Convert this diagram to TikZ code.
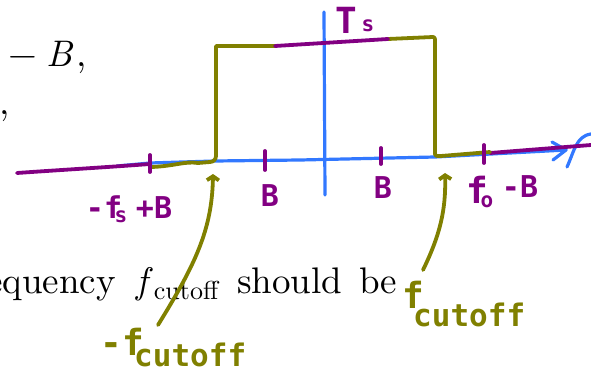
\documentclass[tikz,border=0pt]{standalone}
\usepackage{fontspec}
\setmainfont{lmroman10-regular}[Extension=.otf, ItalicFont=lmroman10-italic]
\usetikzlibrary{arrows.meta}
\newfontfamily\handfont{DejaVu Sans Mono}
\definecolor{pblue}{RGB}{50,120,255}
\definecolor{ppurple}{RGB}{130,0,130}
\definecolor{polive}{RGB}{128,128,0}
\tikzset{
  txt/.style={font=\fontsize{37}{44}\selectfont, inner sep=0pt},
  hand/.style={font={\handfont\bfseries\fontsize{30}{34}\selectfont}, inner sep=0pt},
  handcut/.style={font={\handfont\bfseries\fontsize{31}{34}\selectfont}, inner sep=0pt},
  handbig/.style={font={\handfont\bfseries\fontsize{36}{40}\selectfont}, inner sep=0pt},
  handsmall/.style={font={\handfont\bfseries\fontsize{21}{24}\selectfont}, inner sep=0pt},
  bluestroke/.style={draw=pblue, line width=3.2pt, line cap=round, line join=round},
  purplestroke/.style={draw=ppurple, line width=3.8pt, line cap=round, line join=round},
  olivestroke/.style={draw=polive, line width=3.8pt, line cap=round, line join=round},
  hookarrow/.style={olivestroke, -{Straight Barb[length=4pt,width=12pt]}},
}
\begin{document}
\begin{tikzpicture}[x=1pt,y=-1pt]
\useasboundingbox (0,0) rectangle (591,374);

% printed text
\node[txt, anchor=base west] (t1) at (8,67) {−\hspace{10pt}\textit{B}\kern2pt,};
\node[txt, anchor=base west] (t2) at (-1,115) {,};
\node[txt, anchor=base east] (t3) at (116,293) {equency};
\node[txt, anchor=base west] (t4) at (136,293) {\textit{f}\kern1pt\raisebox{-6pt}{\fontsize{26}{30}\selectfont cutoff}};
\node[txt, anchor=base west] (t5) at (237,293) {should\hspace{17pt}be};

% blue axes
\coordinate (vtop) at (324,12);
\coordinate (vbot) at (325,195);
\draw[bluestroke] (vtop) -- (vbot);
\coordinate (ax0) at (117,166);
\coordinate (axend) at (566,150);
\draw[bluestroke] (ax0) -- (150,163) -- (215,161) -- (300,160) -- (435,157) -- (axend);
\coordinate (ah1) at (552,142);
\coordinate (ah2) at (553,160);
\draw[bluestroke] (ah1) -- (axend) -- (ah2);
\coordinate (fb1) at (567,167);
\coordinate (fb2) at (591,134);
\draw[bluestroke] (fb1) .. controls (574,152) and (576,136) .. (fb2);

% purple axis parts
\coordinate (pl0) at (17,173);
\coordinate (pl1) at (150,164);
\draw[purplestroke] (pl0) .. controls (60,170) and (110,167) .. (pl1);
\coordinate (pr0) at (490,153);
\coordinate (pr1) at (591,145);
\draw[purplestroke] (pr0) -- (pr1);

% olive filter box
\coordinate (ob0) at (152,167);
\coordinate (otl) at (216,46);
\coordinate (otm) at (275,46);
\coordinate (otn) at (388,39);
\coordinate (otr) at (433,37);
\coordinate (obr) at (490,152);
\draw[olivestroke] (ob0) .. controls (175,166) and (185,161) .. (198,163)
   -- (210,162) to[out=0,in=-90] (216,156) -- (otl) -- (otm);
\draw[olivestroke] (otn) -- (otr) to[out=0,in=90] (435,43) -- (435,154)
   to[out=-90,in=180] (441,156) -- (obr);
\draw[purplestroke] (otm) -- (otn);

% ticks
\foreach \x/\ya/\yb/\n in {150/155/172/a, 265/151/170/b, 381/148/164/c, 484/145/163/d}{
  \coordinate (tk\n1) at (\x,\ya);
  \coordinate (tk\n2) at (\x,\yb);
  \draw[purplestroke] (tk\n1) -- (tk\n2);
}

% purple labels
\node[handbig, text=ppurple] (ts1) at (346,20) {T};
\node[handsmall, text=ppurple] (ts2) at (368,26) {s};
\node[hand, text=ppurple] (l1a) at (104,207) {-f};
\node[handsmall, text=ppurple] (l1b) at (121,217) {s};
\node[hand, text=ppurple] (l1c) at (154,208) {+B};
\node[hand, text=ppurple] (l2) at (270,196) {B};
\node[hand, text=ppurple] (l3) at (383,188) {B};
\node[handbig, text=ppurple] (l4a) at (477,190) {f};
\node[handsmall, text=ppurple] (l4b) at (487,202) {o};
\node[hand, text=ppurple] (l4c) at (520,187) {-B};

% olive cutoff labels
\node[handbig, text=polive] (c1a) at (122,342) {-f};
\node[handcut, text=polive, anchor=base west] (c1b) at (134,366) {cutoff};
\node[handbig, text=polive] (c2a) at (413,295) {f};
\node[handcut, text=polive, anchor=base west] (c2b) at (413,326) {cutoff};

% olive arrows
\coordinate (a1s) at (158,325);
\coordinate (a1e) at (213,174);
\draw[hookarrow] (a1s) .. controls (195,265) and (212,230) .. (a1e);
\coordinate (a2s) at (423,270);
\coordinate (a2e) at (445,173);
\draw[hookarrow] (a2s) .. controls (440,235) and (446,210) .. (a2e);
\end{tikzpicture}
\end{document}
